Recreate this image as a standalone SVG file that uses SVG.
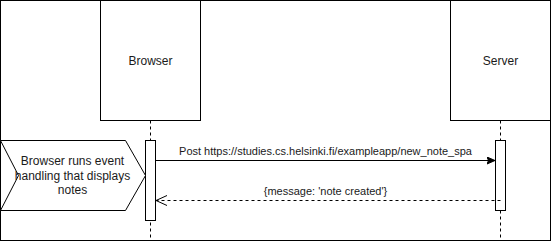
<svg xmlns="http://www.w3.org/2000/svg" width="551" height="241" viewBox="0 0 551 241">
  <defs>
    <marker id="head-filled" markerWidth="10" markerHeight="10" refX="8" refY="4" orient="auto" markerUnits="userSpaceOnUse">
      <path d="M0,0.5 L8,4 L0,7.5 L1.5,4 Z" fill="#000" stroke="#000" stroke-width="1"/>
    </marker>
    <marker id="head-open" markerWidth="14" markerHeight="14" refX="12" refY="6" orient="auto" markerUnits="userSpaceOnUse">
      <path d="M1,1 L12,6 L1,11" fill="none" stroke="#000" stroke-width="1"/>
    </marker>
  </defs>
  <style>
    .box { fill: #fff; stroke: #000; stroke-width: 1; }
    .life { fill: none; stroke: #000; stroke-width: 1; stroke-dasharray: 3 3; }
    .label { font-family: "Liberation Sans", Arial, sans-serif; font-size: 12px; fill: #1a1a1a; text-anchor: middle; }
    .edge-label { font-family: "Liberation Sans", Arial, sans-serif; font-size: 11px; fill: #1a1a1a; text-anchor: middle; }
    .msg { fill: none; stroke: #000; stroke-width: 1; }
    .msg-dashed { fill: none; stroke: #000; stroke-width: 1; stroke-dasharray: 3 3; }
  </style>

  <!-- frame -->
  <rect x="0.5" y="0.5" width="550" height="240" fill="#fff" stroke="#000" stroke-width="1"/>

  <!-- participant: Browser -->
  <g id="browser">
    <rect class="box" x="100.5" y="0.5" width="100" height="120"/>
    <text class="label" x="150.5" y="65">Browser</text>
    <line class="life" x1="150.5" y1="120.5" x2="150.5" y2="240"/>
  </g>

  <!-- participant: Server -->
  <g id="server">
    <rect class="box" x="450.5" y="0.5" width="100" height="120"/>
    <text class="label" x="500.5" y="65">Server</text>
    <line class="life" x1="500.5" y1="120.5" x2="500.5" y2="240"/>
  </g>

  <!-- activation bars -->
  <g id="browser-activation">
    <rect class="box" x="145.5" y="140.5" width="10" height="80"/>
  </g>
  <g id="server-activation">
    <rect class="box" x="495.5" y="140.5" width="10" height="70"/>
  </g>

  <!-- step note -->
  <g id="note-step">
    <path class="box" d="M0.5,140.5 L125.5,140.5 L145.5,175.5 L125.5,210.5 L0.5,210.5 L18.5,175.5 Z"/>
    <text class="label" x="72.5" y="165">Browser runs event</text>
    <text class="label" x="72.5" y="179.5">handling that displays</text>
    <text class="label" x="72.5" y="194">notes</text>
  </g>

  <!-- messages -->
  <g id="connectors">
    <g id="msg-post">
      <line class="msg" x1="155.5" y1="160.5" x2="495" y2="160.5" marker-end="url(#head-filled)"/>
      <text class="edge-label" x="325.5" y="155">Post https://studies.cs.helsinki.fi/exampleapp/new_note_spa</text>
    </g>
    <g id="msg-response">
      <line class="msg-dashed" x1="500.5" y1="200.5" x2="156" y2="200.5" marker-end="url(#head-open)"/>
      <text class="edge-label" x="325.5" y="195">{message: 'note created'}</text>
    </g>
  </g>
</svg>
